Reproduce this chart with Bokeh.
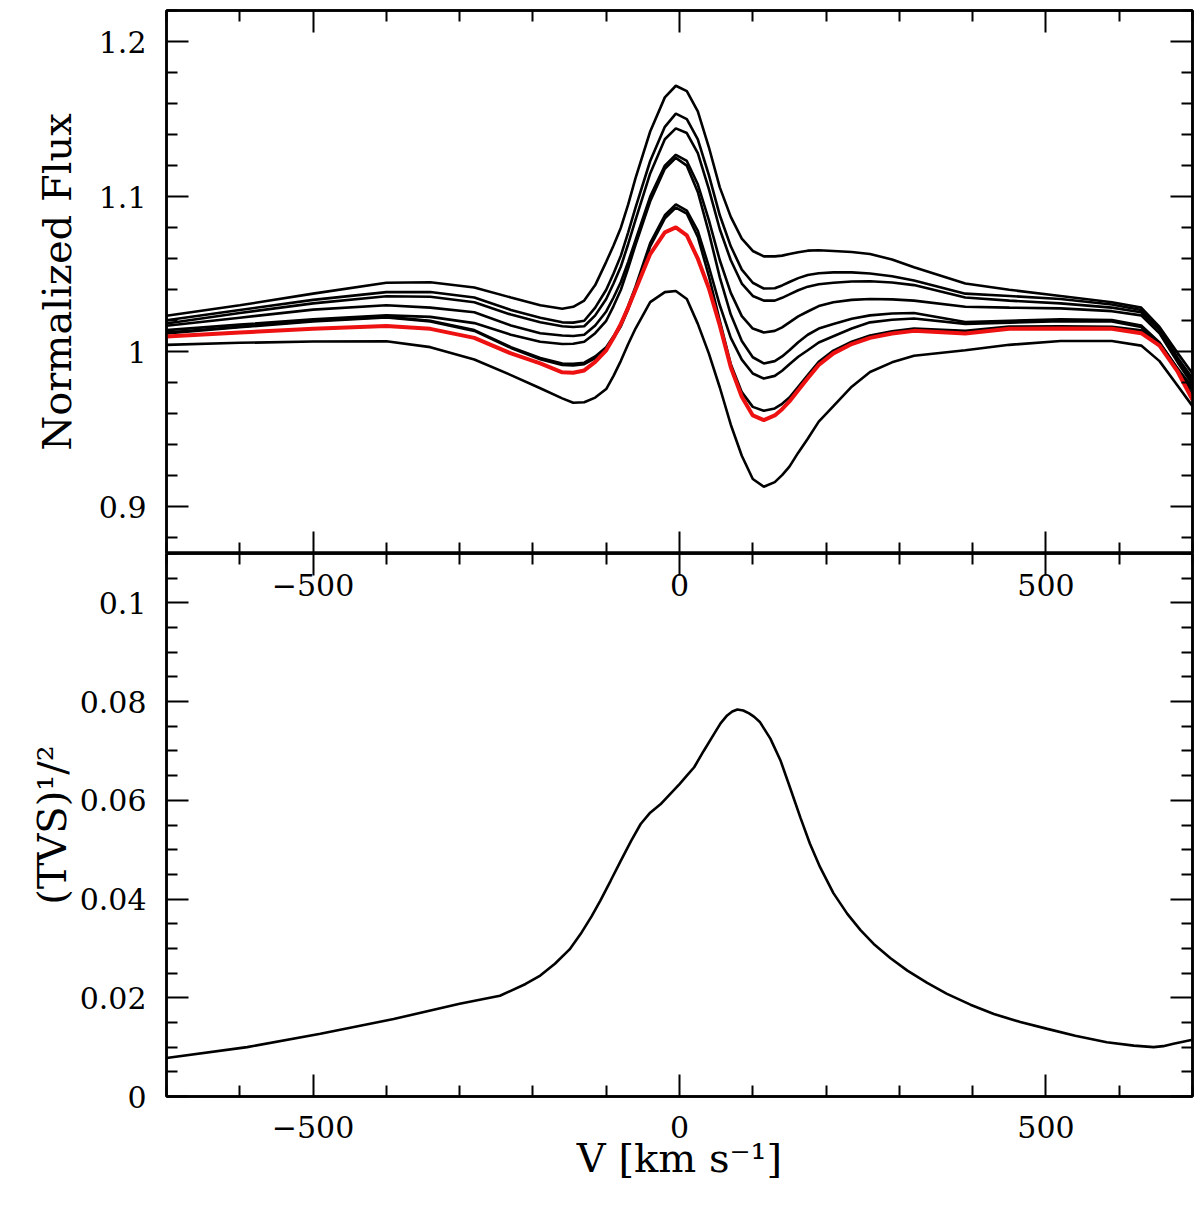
from bokeh.plotting import figure
from bokeh.models import LinearAxis, FixedTicker, Range1d
from bokeh.layouts import column
from bokeh.embed import file_html
from bokeh.resources import INLINE

# ---------------- data ----------------
velocity = [-700, -600, -500, -400, -340, -280, -230, -190, -160, -145, -130, -115, -100,
            -90, -80, -70, -60, -40, -20, -5, 10, 25, 40, 55, 70, 85, 100, 115, 130, 140,
            150, 162, 175, 190, 210, 235, 260, 290, 320, 390, 450, 520, 590, 630, 655, 680,
            700]

flux_1 = [1.0232, 1.0300, 1.0375, 1.0445, 1.0448, 1.0415, 1.0350, 1.0300, 1.0278, 1.0290,
          1.0330, 1.0430, 1.0580, 1.0685, 1.0800, 1.0950, 1.1120, 1.1420, 1.1640, 1.1715,
          1.1680, 1.1550, 1.1320, 1.1060, 1.0870, 1.0730, 1.0650, 1.0615, 1.0615, 1.0620,
          1.0630, 1.0642, 1.0652, 1.0655, 1.0650, 1.0643, 1.0630, 1.0595, 1.0545, 1.0440,
          1.0400, 1.0360, 1.0320, 1.0285, 1.0160, 0.9990, 0.9860]
flux_2 = [1.0204, 1.0270, 1.0335, 1.0385, 1.0385, 1.0350, 1.0270, 1.0220, 1.0190, 1.0188,
          1.0200, 1.0285, 1.0400, 1.0505, 1.0620, 1.0770, 1.0930, 1.1230, 1.1450, 1.1535,
          1.1500, 1.1370, 1.1140, 1.0880, 1.0680, 1.0530, 1.0445, 1.0408, 1.0410, 1.0428,
          1.0450, 1.0475, 1.0495, 1.0506, 1.0512, 1.0512, 1.0505, 1.0487, 1.0460, 1.0375,
          1.0360, 1.0340, 1.0305, 1.0270, 1.0150, 0.9960, 0.9830]
flux_3 = [1.0183, 1.0250, 1.0312, 1.0358, 1.0355, 1.0320, 1.0240, 1.0190, 1.0165, 1.0160,
          1.0165, 1.0235, 1.0340, 1.0440, 1.0550, 1.0695, 1.0850, 1.1150, 1.1370, 1.1440,
          1.1410, 1.1280, 1.1050, 1.0790, 1.0590, 1.0440, 1.0360, 1.0330, 1.0330, 1.0348,
          1.0370, 1.0397, 1.0420, 1.0436, 1.0445, 1.0453, 1.0455, 1.0447, 1.0430, 1.0350,
          1.0330, 1.0312, 1.0285, 1.0255, 1.0140, 0.9950, 0.9810]
flux_4 = [1.0168, 1.0220, 1.0272, 1.0300, 1.0285, 1.0255, 1.0170, 1.0120, 1.0105, 1.0102,
          1.0110, 1.0170, 1.0260, 1.0350, 1.0450, 1.0580, 1.0720, 1.1000, 1.1200, 1.1270,
          1.1230, 1.1080, 1.0850, 1.0590, 1.0380, 1.0230, 1.0150, 1.0125, 1.0135, 1.0158,
          1.0190, 1.0228, 1.0260, 1.0295, 1.0320, 1.0335, 1.0340, 1.0338, 1.0330, 1.0290,
          1.0285, 1.0280, 1.0262, 1.0235, 1.0120, 0.9930, 0.9790]
flux_5 = [1.0140, 1.0175, 1.0210, 1.0235, 1.0225, 1.0185, 1.0110, 1.0065, 1.0050, 1.0052,
          1.0065, 1.0120, 1.0200, 1.0295, 1.0400, 1.0540, 1.0690, 1.0970, 1.1180, 1.1250,
          1.1200, 1.1030, 1.0770, 1.0480, 1.0240, 1.0070, 0.9965, 0.9925, 0.9940, 0.9970,
          1.0010, 1.0062, 1.0110, 1.0150, 1.0180, 1.0213, 1.0235, 1.0247, 1.0250, 1.0192,
          1.0200, 1.0210, 1.0205, 1.0170, 1.0060, 0.9890, 0.9770]
flux_6 = [1.0125, 1.0162, 1.0200, 1.0225, 1.0200, 1.0140, 1.0030, 0.9960, 0.9925, 0.9922,
          0.9930, 0.9970, 1.0030, 1.0100, 1.0180, 1.0295, 1.0420, 1.0700, 1.0880, 1.0950,
          1.0910, 1.0780, 1.0550, 1.0300, 1.0090, 0.9950, 0.9860, 0.9828, 0.9845, 0.9878,
          0.9920, 0.9968, 1.0010, 1.0060, 1.0100, 1.0150, 1.0190, 1.0207, 1.0215, 1.0180,
          1.0188, 1.0198, 1.0195, 1.0160, 1.0050, 0.9880, 0.9750]
flux_7 = [1.0118, 1.0158, 1.0196, 1.0222, 1.0196, 1.0135, 1.0025, 0.9952, 0.9915, 0.9912,
          0.9920, 0.9960, 1.0020, 1.0088, 1.0165, 1.0275, 1.0400, 1.0680, 1.0860, 1.0930,
          1.0890, 1.0740, 1.0490, 1.0200, 0.9920, 0.9740, 0.9645, 0.9620, 0.9635, 0.9665,
          0.9705, 0.9775, 0.9850, 0.9935, 1.0008, 1.0065, 1.0105, 1.0132, 1.0150, 1.0135,
          1.0163, 1.0165, 1.0162, 1.0138, 1.0058, 0.9890, 0.9715]
flux_8 = [1.0045, 1.0058, 1.0066, 1.0068, 1.0030, 0.9950, 0.9850, 0.9765, 0.9700, 0.9672,
          0.9675, 0.9705, 0.9760, 0.9845, 0.9942, 1.0050, 1.0150, 1.0320, 1.0385, 1.0392,
          1.0340, 1.0180, 0.9990, 0.9770, 0.9530, 0.9330, 0.9180, 0.9130, 0.9160, 0.9205,
          0.9260, 0.9350, 0.9440, 0.9550, 0.9650, 0.9775, 0.9870, 0.9932, 0.9975, 1.0010,
          1.0045, 1.0070, 1.0070, 1.0040, 0.9940, 0.9780, 0.9650]
flux_red = [1.0099, 1.0125, 1.0148, 1.0166, 1.0148, 1.0090, 0.9990, 0.9925, 0.9868, 0.9865,
            0.9880, 0.9935, 1.0010, 1.0090, 1.0180, 1.0285, 1.0400, 1.0630, 1.0770, 1.0802,
            1.0750, 1.0600, 1.0410, 1.0170, 0.9900, 0.9710, 0.9590, 0.9560, 0.9590, 0.9630,
            0.9680, 0.9752, 0.9830, 0.9915, 0.9990, 1.0050, 1.0090, 1.0118, 1.0135, 1.0118,
            1.0148, 1.0150, 1.0148, 1.0120, 1.0040, 0.9870, 0.9690]

tvs_velocity = [-700, -590, -490, -390, -300, -245, -210, -190, -170, -150, -135, -120, -108,
                -94, -80, -66, -53, -40, -26, 0, 10, 20, 33, 47, 56, 65, 72, 79, 87, 95, 102,
                110, 124, 138, 151, 165, 178, 192, 210, 229, 247, 265, 288, 311, 338, 365,
                397, 429, 465, 502, 540, 583, 620, 647, 660, 674, 700]
tvs_sqrt = [0.0078, 0.0100, 0.0127, 0.0157, 0.0188, 0.0204, 0.0228, 0.0245, 0.0269, 0.0298,
            0.0329, 0.0365, 0.0397, 0.0437, 0.0478, 0.0518, 0.0552, 0.0575, 0.0592, 0.0633,
            0.0650, 0.0667, 0.0700, 0.0734, 0.0756, 0.0772, 0.0780, 0.0784, 0.0782, 0.0776,
            0.0769, 0.0758, 0.0725, 0.0680, 0.0625, 0.0565, 0.0512, 0.0464, 0.0412, 0.0370,
            0.0337, 0.0309, 0.0280, 0.0255, 0.0230, 0.0208, 0.0186, 0.0167, 0.0151, 0.0137,
            0.0123, 0.0110, 0.0103, 0.0100, 0.0102, 0.0107, 0.0115]

# ticks and labels
x_major = [-500, 0, 500]
x_minor = [-700, -600, -400, -300, -200, -100, 100, 200, 300, 400, 600, 700]
x_labels = {-500: "\u2212500", 0: "0", 500: "500"}
flux_major = [0.9, 1, 1.1, 1.2]
flux_minor = [0.88, 0.92, 0.94, 0.96, 0.98, 1.02, 1.04, 1.06, 1.08, 1.12, 1.14, 1.16, 1.18, 1.22]
flux_labels = {0.9: "0.9", 1: "1", 1.1: "1.1", 1.2: "1.2"}
tvs_major = [0, 0.02, 0.04, 0.06, 0.08, 0.1]
tvs_minor = [0.005, 0.01, 0.015, 0.025, 0.03, 0.035, 0.045, 0.05, 0.055, 0.065, 0.07,
             0.075, 0.085, 0.09, 0.095, 0.105, 0.11]
tvs_labels = {0: "0", 0.02: "0.02", 0.04: "0.04", 0.06: "0.06", 0.08: "0.08", 0.1: "0.1"}

FONT = "DejaVu Serif"
TICK_SIZE = "30px"
LABEL_SIZE = "40px"


def style_axis(ax, major, minor, labels=None, standoff=20):
    ax.ticker = FixedTicker(ticks=major, minor_ticks=minor)
    ax.axis_line_color = "black"
    ax.axis_line_width = 2.5
    ax.major_tick_in = 22
    ax.major_tick_out = 0
    ax.minor_tick_in = 11
    ax.minor_tick_out = 0
    ax.major_tick_line_color = "black"
    ax.minor_tick_line_color = "black"
    ax.major_tick_line_width = 2
    ax.minor_tick_line_width = 2
    if labels is None:
        ax.major_label_text_color = None
        ax.major_label_standoff = 0
    else:
        ax.major_label_overrides = labels
        ax.major_label_text_font = FONT
        ax.major_label_text_font_size = TICK_SIZE
        ax.major_label_text_color = "black"
        ax.major_label_standoff = standoff
    ax.axis_label_text_font = FONT
    ax.axis_label_text_font_size = LABEL_SIZE
    ax.axis_label_text_font_style = "normal"
    ax.axis_label_text_color = "black"


def base_figure(y_range, top_border):
    p = figure(frame_width=1026, frame_height=543,
               x_range=Range1d(-700, 700), y_range=y_range,
               output_backend="svg", toolbar_location=None,
               min_border_left=166, min_border_right=2,
               min_border_top=top_border, min_border_bottom=0)
    p.grid.visible = False
    p.outline_line_color = "black"
    p.outline_line_width = 2.5
    p.background_fill_color = "white"
    p.border_fill_color = "white"
    return p


# ---------------- top panel ----------------
p1 = base_figure(Range1d(0.87, 1.22), 10)
style_axis(p1.xaxis[0], x_major, x_minor, None)
style_axis(p1.yaxis[0], flux_major, flux_minor, flux_labels, 20)
p1.yaxis[0].axis_label = "Normalized Flux"
p1.yaxis[0].axis_label_standoff = 16
top1 = LinearAxis()
style_axis(top1, x_major, x_minor, None)
p1.add_layout(top1, "above")
right1 = LinearAxis()
style_axis(right1, flux_major, flux_minor, None)
p1.add_layout(right1, "right")

for series in [flux_1, flux_2, flux_3, flux_4, flux_5, flux_6, flux_7, flux_8]:
    p1.line(velocity, series, line_color="black", line_width=2.6)
p1.line(velocity, flux_red, line_color="#ee1111", line_width=4)

# ---------------- bottom panel ----------------
p2 = base_figure(Range1d(0, 0.11), 0)
style_axis(p2.xaxis[0], x_major, x_minor, x_labels, 19)
p2.xaxis[0].axis_label = "V [km s\u207b\u00b9]"
p2.xaxis[0].axis_label_standoff = -6
style_axis(p2.yaxis[0], tvs_major, tvs_minor, tvs_labels, 20)
p2.yaxis[0].axis_label = "(TVS)\u00b9/\u00b2"
p2.yaxis[0].axis_label_standoff = 2
top2 = LinearAxis()
style_axis(top2, x_major, x_minor, x_labels, -42)
p2.add_layout(top2, "above")
right2 = LinearAxis()
style_axis(right2, tvs_major, tvs_minor, None)
p2.add_layout(right2, "right")

p2.line(tvs_velocity, tvs_sqrt, line_color="black", line_width=2.6)

layout = column(p1, p2)
open("out.html", "w").write(file_html(layout, INLINE))
